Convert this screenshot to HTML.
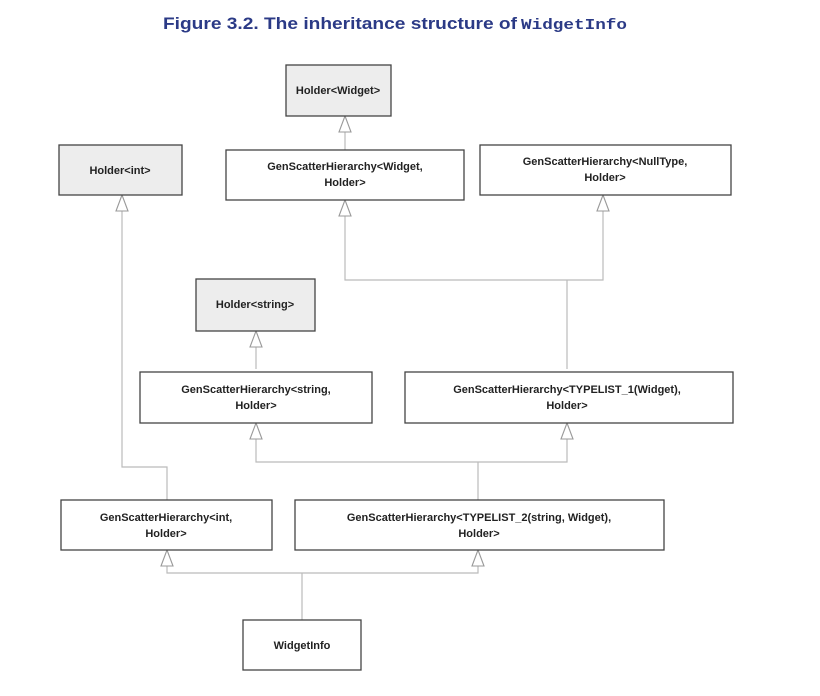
<!DOCTYPE html>
<html><head><style>
html,body{margin:0;padding:0;background:#fff;}
svg{display:block;}
text{font-family:"Liberation Sans",sans-serif;font-size:11px;font-weight:bold;fill:#222;text-anchor:middle;}
.b{fill:#fff;stroke:#444;stroke-width:1.3;}
.g{fill:#ededed;stroke:#444;stroke-width:1.3;}
.l{fill:none;stroke:#bbb;stroke-width:1.2;}
.a{fill:#fff;stroke:#999;stroke-width:1.1;}
</style></head><body>
<svg width="820" height="696" viewBox="0 0 820 696">
<text x="163" y="29" textLength="354" lengthAdjust="spacingAndGlyphs" style="font-size:17px;fill:#2b3a86;text-anchor:start">Figure 3.2. The inheritance structure of</text>
<text x="521" y="29" textLength="106" lengthAdjust="spacingAndGlyphs" style="font-family:'Liberation Mono',monospace;font-size:15px;fill:#2b3a86;text-anchor:start">WidgetInfo</text>

<!-- lines -->
<path class="l" d="M345 116V150 M122 195V467H167V500 M345 200V280H603V195 M567 280V369 M256 331V369 M256 423V462H567V423 M478 462V500 M167 550V573H478V550 M302 573V620"/>

<!-- arrowheads -->
<g class="a">
<path d="M345 116l-6 16h12z"/>
<path d="M122 195l-6 16h12z"/>
<path d="M345 200l-6 16h12z"/>
<path d="M603 195l-6 16h12z"/>
<path d="M256 331l-6 16h12z"/>
<path d="M256 423l-6 16h12z"/>
<path d="M567 423l-6 16h12z"/>
<path d="M167 550l-6 16h12z"/>
<path d="M478 550l-6 16h12z"/>
</g>

<!-- boxes -->
<rect class="g" x="286" y="65" width="105" height="51"/>
<text x="338" y="94">Holder&lt;Widget&gt;</text>

<rect class="g" x="59" y="145" width="123" height="50"/>
<text x="120" y="174">Holder&lt;int&gt;</text>

<rect class="b" x="226" y="150" width="238" height="50"/>
<text x="345" y="170">GenScatterHierarchy&lt;Widget,</text>
<text x="345" y="186">Holder&gt;</text>

<rect class="b" x="480" y="145" width="251" height="50"/>
<text x="605" y="165">GenScatterHierarchy&lt;NullType,</text>
<text x="605" y="181">Holder&gt;</text>

<rect class="g" x="196" y="279" width="119" height="52"/>
<text x="255" y="308">Holder&lt;string&gt;</text>

<rect class="b" x="140" y="372" width="232" height="51"/>
<text x="256" y="393">GenScatterHierarchy&lt;string,</text>
<text x="256" y="409">Holder&gt;</text>

<rect class="b" x="405" y="372" width="328" height="51"/>
<text x="567" y="393">GenScatterHierarchy&lt;TYPELIST_1(Widget),</text>
<text x="567" y="409">Holder&gt;</text>

<rect class="b" x="61" y="500" width="211" height="50"/>
<text x="166" y="521">GenScatterHierarchy&lt;int,</text>
<text x="166" y="537">Holder&gt;</text>

<rect class="b" x="295" y="500" width="369" height="50"/>
<text x="479" y="521">GenScatterHierarchy&lt;TYPELIST_2(string, Widget),</text>
<text x="479" y="537">Holder&gt;</text>

<rect class="b" x="243" y="620" width="118" height="50"/>
<text x="302" y="649">WidgetInfo</text>
</svg>
</body></html>
